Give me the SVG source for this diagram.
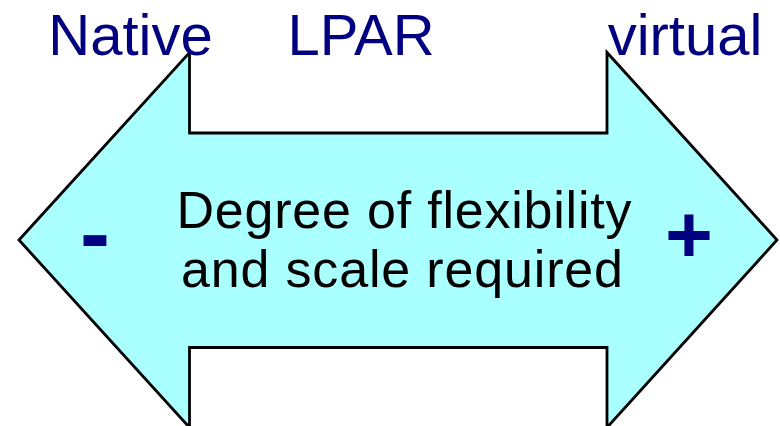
<svg xmlns="http://www.w3.org/2000/svg" width="780" height="426" viewBox="0 0 780 426">
<style>
.hdr{font-family:"Liberation Sans",Arial,sans-serif;font-size:58px;fill:#000080;text-anchor:middle}
.lbl{font-family:"Liberation Sans",Arial,sans-serif;font-size:52px;fill:#000000;text-anchor:middle}
.sgn{font-family:"Liberation Sans",Arial,sans-serif;font-weight:bold;fill:#000080;text-anchor:middle}
.arrow{fill:#AAFFFF;stroke:#000000;stroke-width:2.8;stroke-linejoin:miter}
</style>
<rect width="780" height="426" fill="#FFFFFF"/>
<g id="arrow">
<polygon class="arrow" points="19,240 189.5,52.5 189.5,133 607,133 607,52.5 777,240 607,427.5 607,347.5 189.5,347.5 189.5,427.5"/>
<text class="lbl" x="404" y="228" textLength="455" lengthAdjust="spacing">Degree of flexibility</text>
<text class="lbl" x="402" y="286.5" textLength="442" lengthAdjust="spacing">and scale required</text>
<text class="sgn" x="95" y="264" font-size="90">-</text>
<text class="sgn" x="689" y="262" font-size="82">+</text>
</g>
<g id="labels">
<text class="hdr" x="130.5" y="55">Native</text>
<text class="hdr" x="361" y="55">LPAR</text>
<text class="hdr" x="685" y="55">virtual</text>
</g>
</svg>
